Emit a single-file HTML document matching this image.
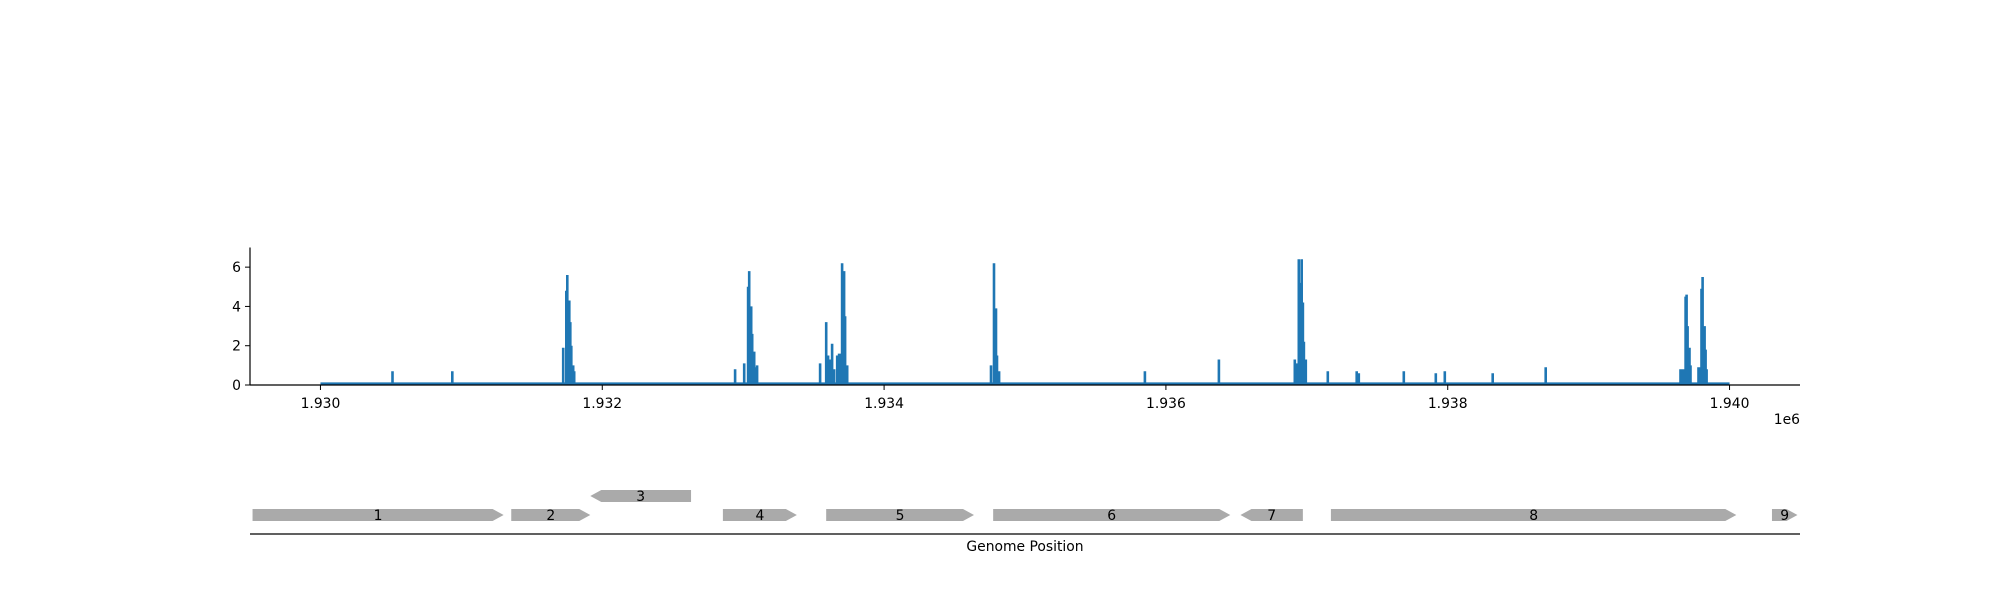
<!DOCTYPE html>
<html><head><meta charset="utf-8"><style>
body{margin:0;background:#fff;}
svg{display:block;font-family:"DejaVu Sans","Liberation Sans",sans-serif;}
</style></head><body>
<svg id="chart" width="2000" height="600" xmlns="http://www.w3.org/2000/svg"></svg>
<script>
const xTicks = [1930000,1932000,1934000,1936000,1938000,1940000];
const xTickLabels = ["1.930","1.932","1.934","1.936","1.938","1.940"];
const yTicks = [0,2,4,6];
const spikePos = [1930511,1930936,1931723,1931745,1931752,1931766,1931773,1931780,1931794,1931801,
1932943,1933007,1933035,1933043,1933057,1933064,1933078,1933085,1933099,
1933546,1933589,1933603,1933617,1933631,1933645,1933667,1933681,1933695,1933702,1933716,1933723,1933738,
1934759,1934780,1934794,1934801,1934816,1935851,1936376,
1936915,1936929,1936943,1936957,1936964,1936972,1936979,1936993,
1937149,1937354,1937369,1937688,1937915,1937979,1938319,1938695,
1939652,1939660,1939674,1939688,1939695,1939702,1939716,1939723,1939780,1939794,1939801,1939809,1939823,1939830,1939837];
const spikeVal = [0.7,0.7,1.9,4.8,5.6,4.3,3.2,2.0,1.0,0.7,
0.8,1.1,5.0,5.8,4.0,2.6,1.7,0.9,1.0,
1.1,3.2,1.5,1.3,2.1,0.8,1.5,1.6,1.6,6.2,5.8,3.5,1.0,
1.0,6.2,3.9,1.5,0.7,0.7,1.3,
1.3,1.1,6.4,5.2,6.4,4.2,2.2,1.3,
0.7,0.7,0.6,0.7,0.6,0.7,0.6,0.9,
0.8,0.8,0.8,4.5,4.6,3.0,1.9,1.0,0.9,0.9,4.9,5.5,3.0,1.8,0.8];
const geneStart = [1929518,1931354,1931915,1932856,1933589,1934774,1936529,1937171,1940301];
const geneEnd   = [1931300,1931915,1932630,1933381,1934638,1936457,1936972,1940048,1940482];
const geneStrand= [1,1,-1,1,1,1,-1,1,1];
const geneRow   = [0,0,1,0,0,0,0,0,0];
const geneLabel = ["1","2","3","4","5","6","7","8","9"];

const NS="http://www.w3.org/2000/svg";
const svg=document.getElementById('chart');
const X0=1929500,X1=1940500,L=250,R=1800;
const sx=v=>L+(v-X0)/(X1-X0)*(R-L);
const Y0=385,YT=247.5;
const sy=v=>Y0-v/7*(Y0-YT);
function mk(t,a){const e=document.createElementNS(NS,t);for(const k in a)e.setAttribute(k,a[k]);svg.appendChild(e);return e;}

let base=mk('line',{x1:sx(1930000),x2:sx(1940000),y1:sy(0)-1.5,y2:sy(0)-1.5,stroke:'#1f77b4','stroke-width':2.2});


let d='';
spikePos.forEach((p,i)=>{const x=sx(p).toFixed(1);d+=`M${x},${sy(0)} L${x},${sy(spikeVal[i]).toFixed(1)} `;});
let sp=mk('path',{d:d,stroke:'#1f77b4','stroke-width':2.6,fill:'none'});



let ya=mk('line',{x1:L,x2:L,y1:YT,y2:Y0,stroke:'#000','stroke-width':1.2});


let xa=mk('line',{x1:L,x2:R,y1:Y0,y2:Y0,stroke:'#000','stroke-width':1.2});


yTicks.forEach(t=>{
  mk('line',{x1:L-5,x2:L,y1:sy(t),y2:sy(t),stroke:'#000','stroke-width':1});
  let tx=mk('text',{x:L-9,y:sy(t)+5,'text-anchor':'end','font-size':13.9});
  tx.textContent=t;
  
  
});
xTicks.forEach((t,i)=>{
  mk('line',{x1:sx(t),x2:sx(t),y1:Y0,y2:Y0+5,stroke:'#000','stroke-width':1});
  let tx=mk('text',{x:sx(t),y:Y0+23,'text-anchor':'middle','font-size':13.9});
  tx.textContent=xTickLabels[i];
  
  
});
let off=mk('text',{x:R,y:424,'text-anchor':'end','font-size':13.9});
off.textContent='1e6';



const H=12,AH=11;
geneStart.forEach((s,i)=>{
  const a=sx(s),b=sx(geneEnd[i]);
  const top=geneRow[i]?490:509, bot=top+H, mid=top+H/2;
  const ah=Math.min(AH,(b-a)*0.5);
  let pts;
  if(geneStrand[i]>0) pts=`${a},${top} ${b-ah},${top} ${b},${mid} ${b-ah},${bot} ${a},${bot}`;
  else pts=`${a+ah},${top} ${b},${top} ${b},${bot} ${a+ah},${bot} ${a},${mid}`;
  let g=mk('polygon',{points:pts,fill:'#aaaaaa'});
  
  
  let t=mk('text',{x:(a+b)/2,y:mid+5,'text-anchor':'middle','font-size':13.9});
  t.textContent=geneLabel[i];
  
  
});
let gl=mk('line',{x1:L,x2:R,y1:534,y2:534,stroke:'#000','stroke-width':1.3});


let gt=mk('text',{x:1025,y:551,'text-anchor':'middle','font-size':13.9});
gt.textContent='Genome Position';


</script>
</body></html>
